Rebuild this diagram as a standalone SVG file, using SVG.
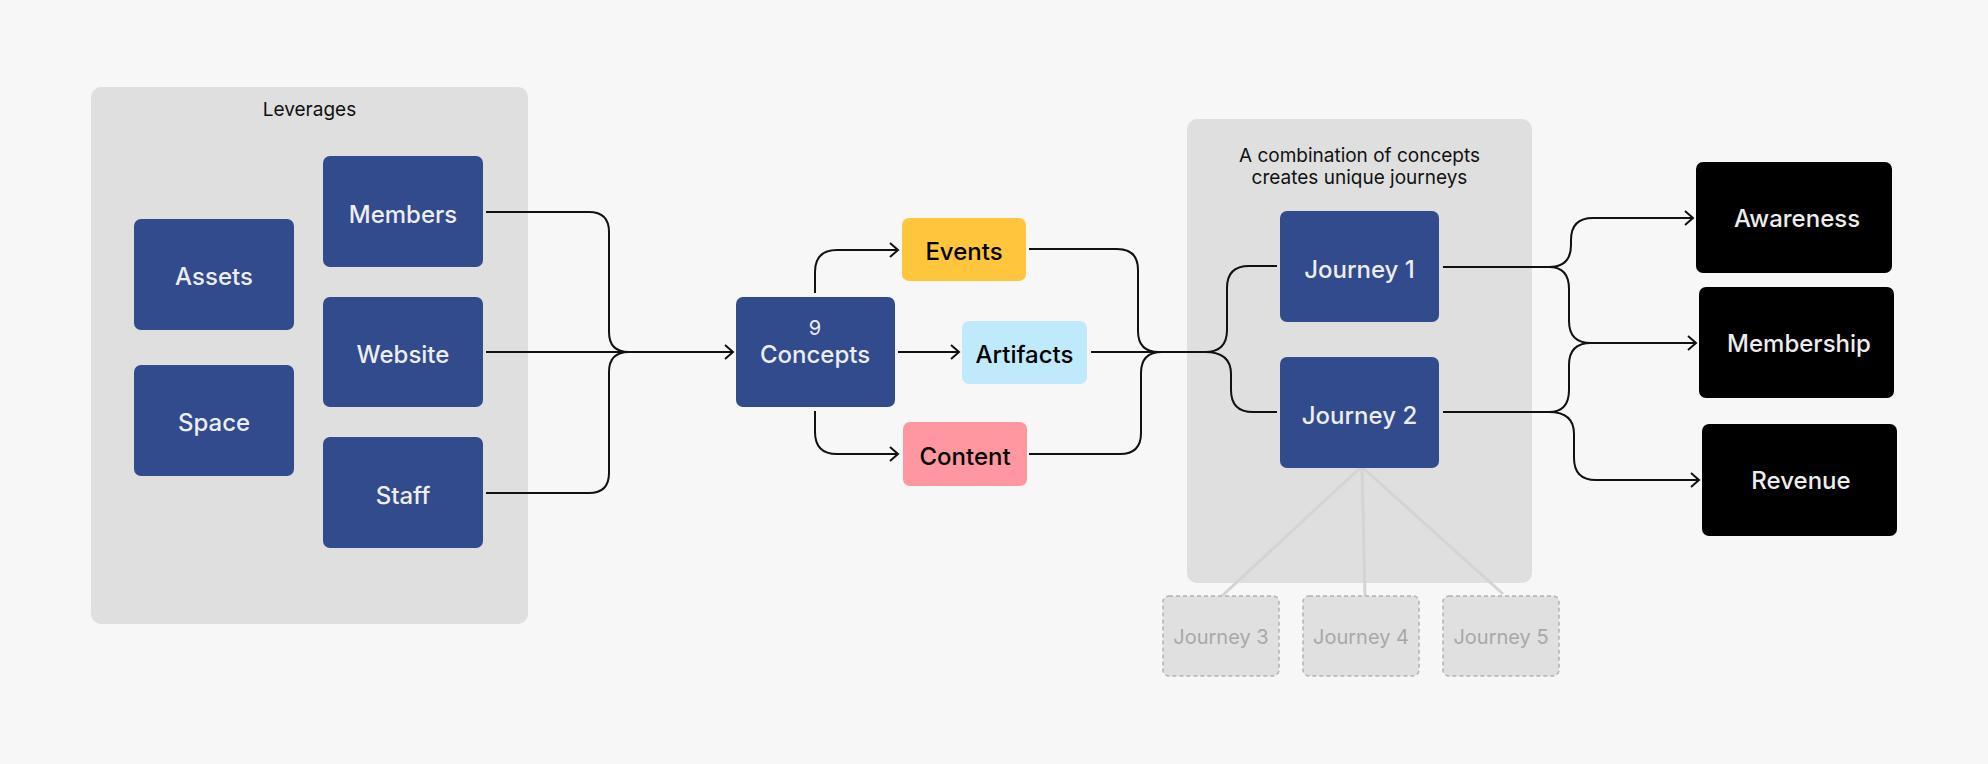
<svg xmlns="http://www.w3.org/2000/svg" width="1988" height="764" viewBox="0 0 1988 764">
<defs>
<style>
.bg{fill:#f7f7f7}
.group{fill:#dfdfdf}
.blue{fill:#324b8c}
.black{fill:#000}
.lbl{font-family:Inter,"Liberation Sans",sans-serif;font-size:24px;font-weight:500;text-anchor:middle}
.w{fill:#ededed}
.k{fill:#000}
.cap{font-family:Inter,"Liberation Sans",sans-serif;font-size:19px;font-weight:400;fill:#111;text-anchor:middle}
.ghost{fill:#e0e0e0;stroke:#b3b3b3;stroke-width:1.5;stroke-dasharray:4 3}
.ghostt{font-family:Inter,"Liberation Sans",sans-serif;font-size:20px;font-weight:400;fill:#a8a8a8;text-anchor:middle}
.conn{fill:none;stroke:#111;stroke-width:2}
.gl{fill:none;stroke:#d4d4d4;stroke-width:3}
</style>
<marker id="arr" markerUnits="userSpaceOnUse" markerWidth="12" markerHeight="18" refX="9" refY="8" orient="auto">
<path d="M1,1 L9,8 L1,15" fill="none" stroke="#111" stroke-width="2"/>
</marker>
</defs>
<rect class="bg" x="0" y="0" width="1988" height="764"/>

<g id="leverages">
<rect class="group" x="91" y="87" width="437" height="537" rx="10"/>
<text class="cap" x="309.5" y="116">Leverages</text>
</g>
<g id="members"><rect class="blue" x="323" y="156" width="160" height="111" rx="7"/><text class="lbl w" x="403" y="223">Members</text></g>
<g id="assets"><rect class="blue" x="134" y="219" width="160" height="111" rx="7"/><text class="lbl w" x="214" y="285">Assets</text></g>
<g id="website"><rect class="blue" x="323" y="297" width="160" height="110" rx="7"/><text class="lbl w" x="403" y="363">Website</text></g>
<g id="space"><rect class="blue" x="134" y="365" width="160" height="111" rx="7"/><text class="lbl w" x="214" y="431">Space</text></g>
<g id="staff"><rect class="blue" x="323" y="437" width="160" height="111" rx="7"/><text class="lbl w" x="403" y="504">Staff</text></g>

<g id="concepts"><rect class="blue" x="736" y="297" width="159" height="110" rx="7"/>
<text class="lbl w" x="815" y="335" style="font-weight:400;font-size:20px">9</text>
<text class="lbl w" x="815" y="363">Concepts</text></g>
<g id="events"><rect fill="#ffc53d" x="902" y="218" width="124" height="63" rx="7"/><text class="lbl k" x="964" y="260">Events</text></g>
<g id="artifacts"><rect fill="#bfeafb" x="962" y="321" width="125" height="63" rx="7"/><text class="lbl k" x="1024.5" y="363">Artifacts</text></g>
<g id="content"><rect fill="#ff97a1" x="903" y="422" width="124" height="64" rx="7"/><text class="lbl k" x="965" y="465">Content</text></g>

<g id="journeys">
<rect class="group" x="1187" y="119" width="345" height="464" rx="10"/>
<text class="cap" x="1359.5" y="162">A combination of concepts</text>
<text class="cap" x="1359.5" y="184">creates unique journeys</text>
</g>

<g id="ghost-links">
<path class="gl" d="M1361,467 L1222,596"/>
<path class="gl" d="M1362,467 L1365,596"/>
<path class="gl" d="M1362,467 L1503,594"/>
</g>

<g id="journey1"><rect class="blue" x="1280" y="211" width="159" height="111" rx="7"/><text class="lbl w" x="1359.5" y="278">Journey 1</text></g>
<g id="journey2"><rect class="blue" x="1280" y="357" width="159" height="111" rx="7"/><text class="lbl w" x="1359.5" y="424">Journey 2</text></g>
<g id="journey3"><rect class="ghost" x="1163" y="596" width="116" height="80" rx="6"/><text class="ghostt" x="1221" y="644">Journey 3</text></g>
<g id="journey4"><rect class="ghost" x="1303" y="596" width="116" height="80" rx="6"/><text class="ghostt" x="1361" y="644">Journey 4</text></g>
<g id="journey5"><rect class="ghost" x="1443" y="596" width="116" height="80" rx="6"/><text class="ghostt" x="1501" y="644">Journey 5</text></g>

<g id="awareness"><rect class="black" x="1696" y="162" width="196" height="111" rx="7"/><text class="lbl w" x="1797" y="227">Awareness</text></g>
<g id="membership"><rect class="black" x="1699" y="287" width="195" height="111" rx="7"/><text class="lbl w" x="1799" y="352">Membership</text></g>
<g id="revenue"><rect class="black" x="1702" y="424" width="195" height="112" rx="7"/><text class="lbl w" x="1801" y="489">Revenue</text></g>

<g id="connectors">
<path class="conn" d="M486,212 H589 Q609,212 609,232 V332 Q609,352 629,352"/>
<path class="conn" d="M486,493 H589 Q609,493 609,473 V372 Q609,352 629,352"/>
<path class="conn" d="M486,352 H733" marker-end="url(#arr)"/>
<path class="conn" d="M815,293 V272 Q815,250 837,250 H898" marker-end="url(#arr)"/>
<path class="conn" d="M898,352 H959" marker-end="url(#arr)"/>
<path class="conn" d="M815,411 V432 Q815,454 837,454 H898" marker-end="url(#arr)"/>
<path class="conn" d="M1029,249 H1117 Q1138,249 1138,270 V331 Q1138,352 1159,352"/>
<path class="conn" d="M1029,454 H1120 Q1141,454 1141,433 V373 Q1141,352 1162,352"/>
<path class="conn" d="M1091,352 H1207"/>
<path class="conn" d="M1205,352 Q1227,352 1227,330 V288 Q1227,266 1249,266 H1277"/>
<path class="conn" d="M1205,352 Q1231,352 1231,374 V390 Q1231,412 1253,412 H1277"/>
<path class="conn" d="M1443,267 H1549 Q1571,267 1571,245 V240 Q1571,218 1593,218 H1693" marker-end="url(#arr)"/>
<path class="conn" d="M1549,267 Q1569,267 1569,289 V321 Q1569,343 1591,343 H1696" marker-end="url(#arr)"/>
<path class="conn" d="M1443,412 H1549 Q1569,412 1569,390 V365 Q1569,343 1591,343"/>
<path class="conn" d="M1549,412 Q1574,412 1574,434 V458 Q1574,480 1596,480 H1699" marker-end="url(#arr)"/>
</g>
</svg>
